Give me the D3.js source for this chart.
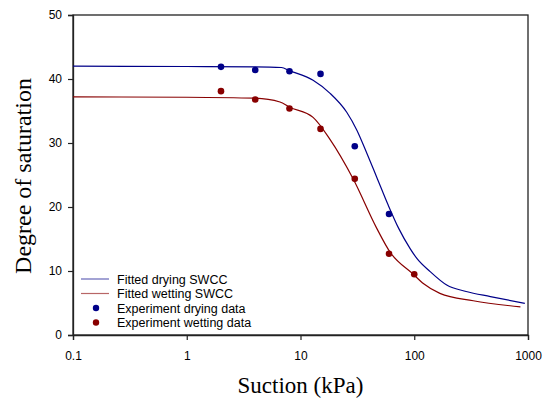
<!DOCTYPE html>
<html>
<head>
<meta charset="utf-8">
<script src="https://cdn.jsdelivr.net/npm/d3@7"></script>
<style>
  body { margin: 0; background: #fff; }
  svg { display: block; }
</style>
</head>
<body>
<svg id="chart"></svg>
<script>
// experiment points, suction (kPa) and degree of saturation
var dryX = [2, 4, 8, 15, 30, 60];
var dryY = [41.9, 41.4, 41.2, 40.8, 29.5, 18.9];
var wetX = [2, 4, 8, 15, 30, 60, 100];
var wetY = [38.1, 36.8, 35.4, 32.2, 24.4, 12.7, 9.5];

// fitted SWCC curves
var fitDryX = [0.1, 1, 4, 6.8, 8, 12.9, 18.1, 25.5, 31.3, 38.3, 46.7, 59, 72.8, 92, 105, 138, 193, 286, 467, 938];
var fitDryY = [42.0, 41.95, 41.9, 41.8, 41.3, 39.8, 37.8, 34.8, 32.0, 28.4, 24.7, 20.3, 16.7, 13.5, 12.0, 9.9, 7.8, 6.8, 6.0, 4.95];
var fitWetX = [0.1, 1, 4, 6.6, 8, 12.9, 18.1, 29, 46.7, 61, 98, 121, 168, 330, 858];
var fitWetY = [37.2, 37.15, 37.0, 36.4, 35.6, 34.0, 30.6, 24.4, 16.7, 13.0, 9.5, 8.0, 6.5, 5.35, 4.4];

var xTicks = [0.1, 1, 10, 100, 1000];
var yTicks = [0, 10, 20, 30, 40, 50];

var legendLabels = ["Fitted drying SWCC", "Fitted wetting SWCC", "Experiment drying data", "Experiment wetting data"];

var w = 545, h = 400;
var margin = {top: 15, right: 17, bottom: 65, left: 73};
var width = w - margin.left - margin.right;
var height = h - margin.top - margin.bottom;

var blue = "#000088", red = "#880000";

var x = d3.scaleLog().domain([0.1, 1000]).range([0, width]);
var y = d3.scaleLinear().domain([0, 50]).range([height, 0]);

var svg = d3.select("#chart").attr("width", w).attr("height", h);
var chart = svg.append("g")
  .attr("transform", "translate(" + margin.left + "," + margin.top + ")");

// frame
chart.append("rect")
  .attr("width", width).attr("height", height)
  .attr("fill", "none").attr("stroke", "#222").attr("stroke-width", 1.3);

var xAxis = chart.append("g")
  .attr("transform", "translate(0," + height + ")")
  .call(d3.axisBottom(x).tickValues(xTicks).tickFormat(d3.format("~g")).tickSizeOuter(0).tickSize(5).tickPadding(11));
var yAxis = chart.append("g")
  .call(d3.axisLeft(y).tickValues(yTicks).tickSizeOuter(0).tickSize(5).tickPadding(6));

[xAxis, yAxis].forEach(function(a) {
  a.select(".domain").attr("stroke", "#222").attr("stroke-width", 1.3);
  a.selectAll(".tick line").attr("stroke", "#222").attr("stroke-width", 1.2);
  a.selectAll(".tick text")
    .attr("font-family", "Liberation Sans, Arial, sans-serif")
    .attr("font-size", 12).attr("fill", "#000");
});

var line = d3.line()
  .x(function(d) { return x(d[0]); })
  .y(function(d) { return y(d[1]); })
  .curve(d3.curveMonotoneX);

function zip(a, b) { return a.map(function(v, i) { return [v, b[i]]; }); }

chart.append("path").datum(zip(fitDryX, fitDryY))
  .attr("d", line).attr("fill", "none").attr("stroke", blue).attr("stroke-width", 1.2);
chart.append("path").datum(zip(fitWetX, fitWetY))
  .attr("d", line).attr("fill", "none").attr("stroke", red).attr("stroke-width", 1.2);

chart.selectAll(".dry").data(zip(dryX, dryY)).enter().append("circle")
  .attr("class", "dry")
  .attr("cx", function(d) { return x(d[0]); })
  .attr("cy", function(d) { return y(d[1]); })
  .attr("r", 3.3).attr("fill", blue);
chart.selectAll(".wet").data(zip(wetX, wetY)).enter().append("circle")
  .attr("class", "wet")
  .attr("cx", function(d) { return x(d[0]); })
  .attr("cy", function(d) { return y(d[1]); })
  .attr("r", 3.3).attr("fill", red);

// legend
var legend = chart.append("g").attr("transform", "translate(8,264)");
var legendColors = [blue, red, blue, red];
legendLabels.forEach(function(t, i) {
  var row = legend.append("g").attr("transform", "translate(0," + (i * 14.5) + ")");
  if (i < 2) {
    row.append("line").attr("x1", 0).attr("x2", 28).attr("y1", 0).attr("y2", 0)
      .attr("stroke", legendColors[i]).attr("stroke-opacity", 0.6).attr("stroke-width", 1.2);
  } else {
    row.append("circle").attr("cx", 15).attr("cy", 0).attr("r", 3.2).attr("fill", legendColors[i]);
  }
  row.append("text").attr("x", 36).attr("y", 4.5)
    .attr("font-family", "Liberation Sans, Arial, sans-serif")
    .attr("font-size", 12.5).text(t);
});

// axis titles
svg.append("text")
  .attr("x", margin.left + width / 2).attr("y", 393)
  .attr("text-anchor", "middle")
  .attr("font-family", "Liberation Serif, Times New Roman, serif")
  .attr("font-size", 23).text("Suction (kPa)");
svg.append("text")
  .attr("transform", "translate(31," + (margin.top + height / 2 + 1) + ") rotate(-90)")
  .attr("text-anchor", "middle")
  .attr("font-family", "Liberation Serif, Times New Roman, serif")
  .attr("font-size", 24).text("Degree of saturation");
</script>
</body>
</html>
